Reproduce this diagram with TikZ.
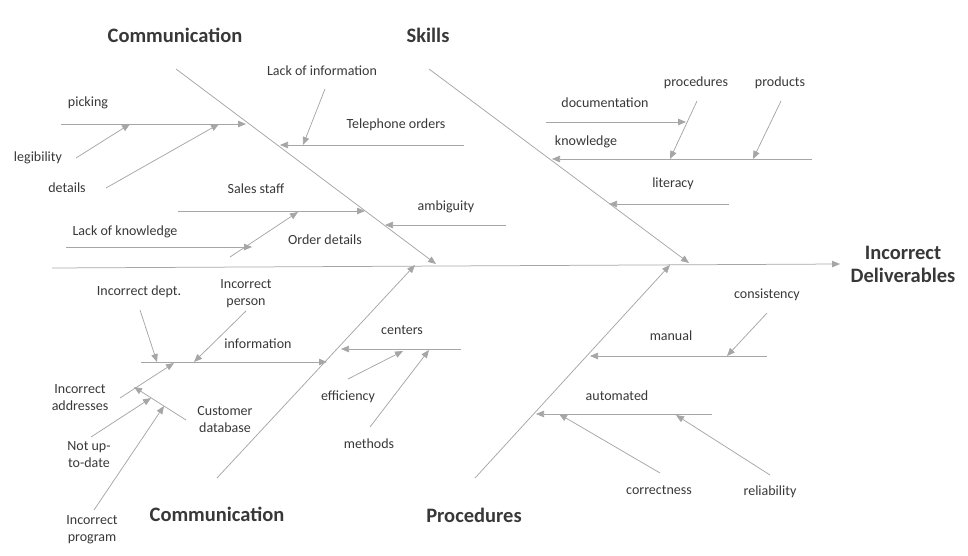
\documentclass[tikz,border=0pt]{standalone}
\usepackage{fontspec}
\setmainfont{Carlito}
\usetikzlibrary{arrows.meta}
\definecolor{linegray}{HTML}{A6A6A6}
\definecolor{txtgray}{HTML}{383838}
\tikzset{
  bone/.style={draw=linegray,line width=0.75pt},
  arr/.style={bone,-{Triangle[length=8pt,width=6.5pt]}},
  lbl/.style={text=txtgray,font=\fontsize{14}{17}\selectfont,inner sep=0pt,align=center},
  ttl/.style={text=txtgray,font=\fontsize{20.5}{23}\selectfont\bfseries,inner sep=0pt,align=center},
}
\begin{document}
\begin{tikzpicture}[x=1pt,y=-1pt]
\useasboundingbox (0,0) rectangle (968,556);
% ---- spine and main bones
\coordinate (sp0) at (52,268);
\coordinate (sp1) at (840,264);
\draw[arr] (sp0) -- (sp1);
\coordinate (tl0) at (176,69); \coordinate (tl1) at (436,264);
\coordinate (tr0) at (429,69); \coordinate (tr1) at (689,263);
\coordinate (bl0) at (217,478); \coordinate (bl1) at (415,265);
\coordinate (br0) at (475,478); \coordinate (br1) at (670,265);
\draw[arr] (tl0) -- (tl1);
\draw[arr] (tr0) -- (tr1);
\draw[arr] (bl0) -- (bl1);
\draw[arr] (br0) -- (br1);
% ---- titles
\node[ttl] (tComm1) at (175,35) {Communication};
\node[ttl] (tSkills) at (428,35) {Skills};
\node[ttl] (tComm2) at (217,514) {Communication};
\node[ttl] (tProc) at (474,515) {Procedures};
\node[ttl] (tEff) at (903,264) {Incorrect\\Deliverables};
% ---- top-left
\coordinate (pk0) at (61,124); \coordinate (pk1) at (246,124);
\draw[arr] (pk0) -- (pk1);
\node[lbl] (picking) at (88,103) {picking};
\coordinate (lg0) at (76,158); \coordinate (lg1) at (130,124);
\draw[arr] (lg0) -- (lg1);
\node[lbl] (legib) at (38,158) {legibility};
\coordinate (dt0) at (106,188); \coordinate (dt1) at (219,124);
\draw[arr] (dt0) -- (dt1);
\node[lbl] (details) at (67,188) {details};
\coordinate (li0) at (325,89); \coordinate (li1) at (303,145);
\draw[arr] (li0) -- (li1);
\node[lbl] (lackinfo) at (322,71) {Lack of information};
\coordinate (to0) at (464,145); \coordinate (to1) at (280,145);
\draw[arr] (to0) -- (to1);
\node[lbl] (tel) at (396,125) {Telephone orders};
\coordinate (ss0) at (178,211); \coordinate (ss1) at (365,211);
\draw[arr] (ss0) -- (ss1);
\node[lbl] (sales) at (256,189) {Sales staff};
\coordinate (od0) at (230,257); \coordinate (od1) at (298,212);
\draw[arr] (od0) -- (od1);
\node[lbl] (orderd) at (325,240) {Order details};
\coordinate (lk0) at (66,247); \coordinate (lk1) at (252,247);
\draw[arr] (lk0) -- (lk1);
\node[lbl] (lackk) at (125,232) {Lack of knowledge};
\coordinate (am0) at (506,225); \coordinate (am1) at (385,225);
\draw[arr] (am0) -- (am1);
\node[lbl] (ambig) at (446,207) {ambiguity};
% ---- top-right
\coordinate (dc0) at (546,122); \coordinate (dc1) at (686,122);
\draw[arr] (dc0) -- (dc1);
\node[lbl] (docu) at (605,103) {documentation};
\coordinate (kn0) at (812,159); \coordinate (kn1) at (552,159);
\draw[arr] (kn0) -- (kn1);
\node[lbl] (knowl) at (586,142) {knowledge};
\coordinate (pr0) at (697,101); \coordinate (pr1) at (670,159);
\draw[arr] (pr0) -- (pr1);
\node[lbl] (proced) at (696,83) {procedures};
\coordinate (pd0) at (781,101); \coordinate (pd1) at (753,159);
\draw[arr] (pd0) -- (pd1);
\node[lbl] (prods) at (780,83) {products};
\coordinate (lt0) at (729,204); \coordinate (lt1) at (609,204);
\draw[arr] (lt0) -- (lt1);
\node[lbl] (litr) at (673,184) {literacy};
% ---- bottom-left
\coordinate (in0) at (141,362); \coordinate (in1) at (327,362);
\draw[arr] (in0) -- (in1);
\node[lbl] (info) at (258,344) {information};
\coordinate (id0) at (140,310); \coordinate (id1) at (157,362);
\draw[arr] (id0) -- (id1);
\node[lbl] (incdept) at (139,292) {Incorrect dept.};
\coordinate (ip0) at (246,311); \coordinate (ip1) at (194,362);
\draw[arr] (ip0) -- (ip1);
\node[lbl] (incpers) at (246,294) {Incorrect\\person};
\coordinate (cd0) at (186,420); \coordinate (cd1) at (134,387);
\draw[arr] (cd0) -- (cd1);
\node[lbl] (custdb) at (225,420) {Customer\\database};
\coordinate (ia0) at (120,398); \coordinate (ia1) at (174,363);
\draw[arr] (ia0) -- (ia1);
\node[lbl] (incaddr) at (80,398) {Incorrect\\addresses};
\coordinate (nu0) at (91,437); \coordinate (nu1) at (151,398);
\draw[arr] (nu0) -- (nu1);
\node[lbl] (notup) at (89,455) {Not up-\\to-date};
\coordinate (ipg0) at (94,510); \coordinate (ipg1) at (164,406);
\draw[arr] (ipg0) -- (ipg1);
\node[lbl] (incprog) at (92,530) {Incorrect\\program};
\coordinate (ce0) at (461,349); \coordinate (ce1) at (341,349);
\draw[arr] (ce0) -- (ce1);
\node[lbl] (centers) at (402,330) {centers};
\coordinate (ef0) at (348,379); \coordinate (ef1) at (403,351);
\draw[arr] (ef0) -- (ef1);
\node[lbl] (effic) at (348,397) {efficiency};
\coordinate (me0) at (370,427); \coordinate (me1) at (429,350);
\draw[arr] (me0) -- (me1);
\node[lbl] (meth) at (369,444) {methods};
% ---- bottom-right
\coordinate (ma0) at (767,356); \coordinate (ma1) at (590,356);
\draw[arr] (ma0) -- (ma1);
\node[lbl] (manual) at (671,336) {manual};
\coordinate (cs0) at (767,313); \coordinate (cs1) at (727,356);
\draw[arr] (cs0) -- (cs1);
\node[lbl] (consist) at (767,295) {consistency};
\coordinate (au0) at (712,414); \coordinate (au1) at (536,414);
\draw[arr] (au0) -- (au1);
\node[lbl] (autom) at (617,396) {automated};
\coordinate (co0) at (660,473); \coordinate (co1) at (559,414);
\draw[arr] (co0) -- (co1);
\node[lbl] (correct) at (659,490) {correctness};
\coordinate (re0) at (770,475); \coordinate (re1) at (676,415);
\draw[arr] (re0) -- (re1);
\node[lbl] (reliab) at (770,492) {reliability};
\end{tikzpicture}
\end{document}
